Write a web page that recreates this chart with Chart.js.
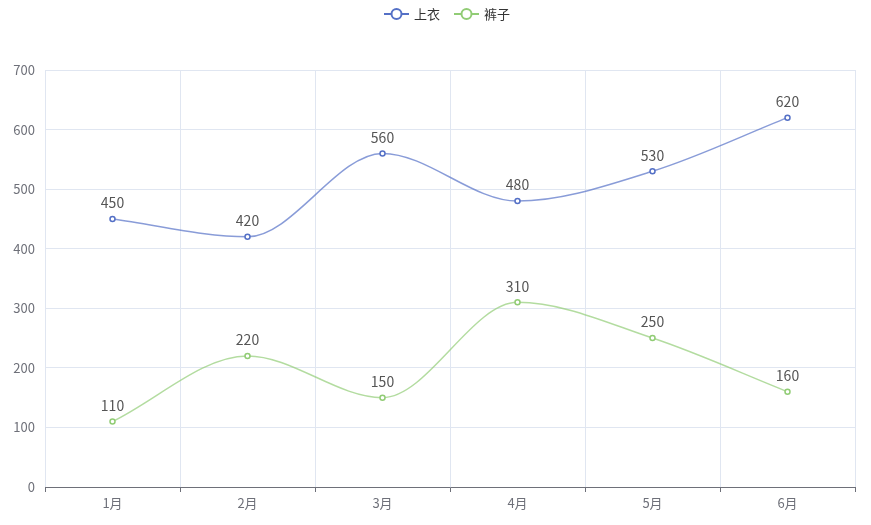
<!DOCTYPE html>
<html lang="zh">
<head>
<meta charset="UTF-8">
<script src="https://cdn.jsdelivr.net/npm/chart.js"></script>
<style>
  body { margin: 0; background: #fff; }
  .chart-container { width: 871px; height: 525px; }
</style>
</head>
<body>
<div class="chart-container"><canvas id="myChart"></canvas></div>
<script>
const months = ['1月', '2月', '3月', '4月', '5月', '6月'];
const shirtSales = [450, 420, 560, 480, 530, 620];
const pantsSales = [110, 220, 150, 310, 250, 160];
const seriesNames = ['上衣', '裤子'];
const seriesColors = ['#5470c6', '#91cc75'];
const fontFamily = '"Noto Sans CJK SC", "Noto Sans", sans-serif';

// value labels above each point
const valueLabels = {
    id: 'valueLabels',
    afterDatasetsDraw(chart) {
        const ctx = chart.ctx;
        ctx.save();
        ctx.font = '14px ' + fontFamily;
        ctx.fillStyle = '#555';
        ctx.textAlign = 'center';
        ctx.textBaseline = 'bottom';
        chart.data.datasets.forEach((ds, i) => {
            chart.getDatasetMeta(i).data.forEach((pt, j) => {
                ctx.fillText(ds.data[j], pt.x, pt.y - 9);
            });
        });
        ctx.restore();
    }
};

// echarts-like legend at the top
const topLegend = {
    id: 'topLegend',
    afterDraw(chart) {
        const ctx = chart.ctx;
        ctx.save();
        ctx.font = '13px ' + fontFamily;
        ctx.textBaseline = 'middle';
        const y = 14;
        let x = 384;
        seriesNames.forEach((name, i) => {
            ctx.strokeStyle = seriesColors[i];
            ctx.lineWidth = 2;
            ctx.beginPath();
            ctx.moveTo(x, y); ctx.lineTo(x + 25, y);
            ctx.stroke();
            ctx.beginPath();
            ctx.arc(x + 12.5, y, 5, 0, Math.PI * 2);
            ctx.fillStyle = '#fff';
            ctx.fill();
            ctx.stroke();
            ctx.fillStyle = '#333';
            ctx.fillText(name, x + 30, y);
            x += 30 + ctx.measureText(name).width + 14;
        });
        ctx.restore();
    }
};

const ctx = document.getElementById('myChart').getContext('2d');
const chart = new Chart(ctx, {
    type: 'line',
    data: {
        labels: months,
        datasets: [shirtSales, pantsSales].map((d, i) => ({
            label: seriesNames[i],
            data: d,
            borderColor: seriesColors[i] + 'b0',
            borderWidth: 1.5,
            pointRadius: 2.5,
            pointBorderWidth: 1.5,
            pointBorderColor: seriesColors[i],
            pointBackgroundColor: '#fff',
            cubicInterpolationMode: 'monotone',
            fill: false
        }))
    },
    options: {
        responsive: true,
        maintainAspectRatio: false,
        animation: false,
        layout: { padding: { top: 70, right: 16, left: 0, bottom: 0 } },
        plugins: { legend: { display: false }, tooltip: { enabled: false } },
        scales: {
            x: {
                offset: true,
                grid: { offset: true, color: '#e0e6f1', tickColor: '#6e7079', tickLength: 5, drawTicks: true },
                border: { color: '#6e7079' },
                ticks: { color: '#6e7079', font: { size: 13, family: fontFamily }, padding: 3 },
                afterFit(s) { s.height = 38; }
            },
            y: {
                min: 0, max: 700,
                grid: { color: '#e0e6f1', drawTicks: false },
                border: { display: false },
                ticks: { stepSize: 100, color: '#6e7079', font: { size: 13, family: fontFamily }, padding: 10 },
                afterFit(s) { s.width = 45; }
            }
        }
    },
    plugins: [valueLabels, topLegend]
});
</script>
</body>
</html>
